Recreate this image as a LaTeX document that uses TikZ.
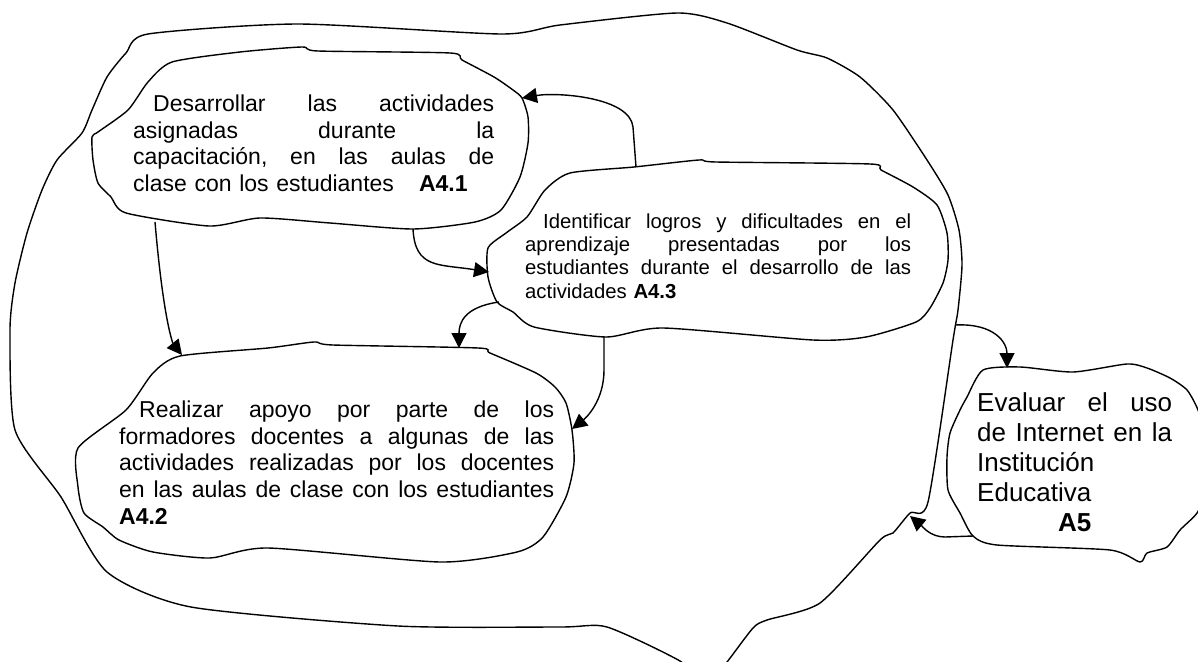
\documentclass[tikz,border=0pt]{standalone}
\usepackage{fontspec}
\setmainfont{Liberation Sans}
\usetikzlibrary{arrows.meta}
\newcommand{\fsizeA}{\fontsize{23}{26.7}\selectfont}
\newcommand{\fsizeB}{\fontsize{20.3}{23.3}\selectfont}
\newcommand{\fsizeC}{\fontsize{26}{30}\selectfont}
\begin{document}
\begin{tikzpicture}[x=1pt,y=-1pt,
  blob/.style={draw, line width=1.4pt, line join=round},
  arr/.style={draw, line width=1.4pt, -{Triangle[length=15pt,width=15pt]}},
  txt/.style={inner sep=0pt, anchor=north west, align=left}]
\useasboundingbox (0,0) rectangle (1198,661);
\fill[white] (0,0) rectangle (1198,661);
\clip (0,0) rectangle (1198,661);

% outer boundary
\draw[blob] plot[smooth cycle, tension=0.4] coordinates {(148,34) (298,24) (501,34) (560,25) (677,13) (727,23) (797,50) (827,58) (860,77) (893,110) (927,160) (948,195) (959,230) (962,265) (958,310) (953,340) (928,502) (910,513) (893,533) (880,540) (820,603) (767,620) (753,628) (727,662) (712,678) (692,678) (680,661) (607,627) (560,627) (398,626) (191,607) (107,572) (61,497) (15,430) (10,330) (15,283) (27,233) (42,190) (57,160) (82,133) (92,110) (107,77) (126,53)};

% A4.1
\draw[blob] plot[smooth cycle, tension=0.4] coordinates {(172,62) (240,52) (302,47) (318,51) (450,53) (462,60) (494,77) (513,90) (522,98) (528,117) (528,143) (520,177) (501,210) (475,222) (413,229) (330,223) (260,218) (209,226) (126,213) (111,197) (98,183) (93,160) (92,137) (98,132) (128,110) (148,82)};

% A4.3
\draw[blob] plot[smooth cycle, tension=0.4] coordinates {(570,173) (634,167) (699,160) (716,162) (870,164) (881,170) (913,187) (937,205) (947,233) (948,260) (943,283) (930,308) (916,322) (866,337) (813,340) (663,328) (606,337) (534,327) (513,312) (497,302) (488,277) (488,248) (506,233) (527,217) (545,190)};

% A4.2
\draw[blob] plot[smooth cycle, tension=0.4] coordinates {(180,356) (268,348) (314,342) (333,345) (478,348) (490,353) (536,373) (555,387) (566,403) (572,430) (574,463) (566,497) (543,537) (517,552) (440,562) (268,548) (210,558) (153,552) (119,540) (103,527) (84,513) (78,487) (78,448) (126,410) (153,373)};

% A5
\draw[blob] plot[smooth cycle, tension=0.4] coordinates {(983,370) (1020,367) (1073,372) (1127,364) (1147,368) (1170,378) (1187,390) (1198,410) (1206,440) (1206,490) (1197,513) (1180,530) (1167,547) (1147,553) (1140,562) (1110,550) (997,545) (973,536) (960,513) (948,490) (947,457) (950,433) (960,410) (967,397)};

% connector end points
\coordinate (c1s) at (155,222);
\coordinate (c1e) at (182,355);
\coordinate (c2s) at (413,229);
\coordinate (c2e) at (489,272);
\coordinate (c3s) at (636,167);
\coordinate (c3e) at (522,98);
\coordinate (c4s) at (499,302);
\coordinate (c4e) at (459,348);
\coordinate (c5s) at (604,337);
\coordinate (c5e) at (572,429);
\coordinate (c6s) at (955,325);
\coordinate (c6e) at (1007,368);
\coordinate (c7s) at (973,536);
\coordinate (c7e) at (910,516);

\draw[arr] (c1s) .. controls +(9,105) and +(-8,-10) .. (c1e);
\draw[arr] (c2s) .. controls +(2,40) and +(-50,-8) .. (c2e);
\draw[arr] (c3s) -- ++(-3,-40) .. controls +(-3,-30) and +(35,-6) .. (c3e);
\draw[arr] (c4s) .. controls +(-35,5) and +(0,-25) .. (c4e);
\draw[arr] (c5s) -- ++(0,33) .. controls +(0,30) and +(15,-12) .. (c5e);
\draw[arr] (c6s) .. controls +(40,-2) and +(0,-25) .. (c6e);
\draw[arr] (c7s) -- ++(-28,1) .. controls +(-15,0) and +(12,10) .. (c7e);

% texts
\node[txt, text width=361pt, font=\fsizeA] (t41) at (133,94.5)
 {\hspace*{20pt}Desarrollar\hfill las\hfill actividades\\
  asignadas\hfill durante\hfill la\\
  capacitación,\hfill en\hfill las\hfill aulas\hfill de\\
  clase con los estudiantes\hspace*{25pt}\textbf{A4.1}};

\node[txt, text width=386pt, font=\fsizeB] (t43) at (525,213.4)
 {\hspace*{18pt}Identificar\hfill logros\hfill y\hfill dificultades\hfill en\hfill el\\
  aprendizaje\hfill presentadas\hfill por\hfill los\\
  estudiantes\hfill durante\hfill el\hfill desarrollo\hfill de\hfill las\\
  actividades \textbf{A4.3}};

\node[txt, text width=435pt, font=\fsizeA] (t42) at (119,400.5)
 {\hspace*{20pt}Realizar\hfill apoyo\hfill por\hfill parte\hfill de\hfill los\\
  formadores\hfill docentes\hfill a\hfill algunas\hfill de\hfill las\\
  actividades\hfill realizadas\hfill por\hfill los\hfill docentes\\
  en\hfill las\hfill aulas\hfill de\hfill clase\hfill con\hfill los\hfill estudiantes\\
  \textbf{A4.2}};

\node[txt, text width=195pt, font=\fsizeC] (t5) at (977,392)
 {Evaluar\hfill el\hfill uso\\
  de\hfill Internet\hfill en\hfill la\\
  Institución\\
  Educativa\\
  \hfill\textbf{A5}\hfill\null};
\end{tikzpicture}
\end{document}
